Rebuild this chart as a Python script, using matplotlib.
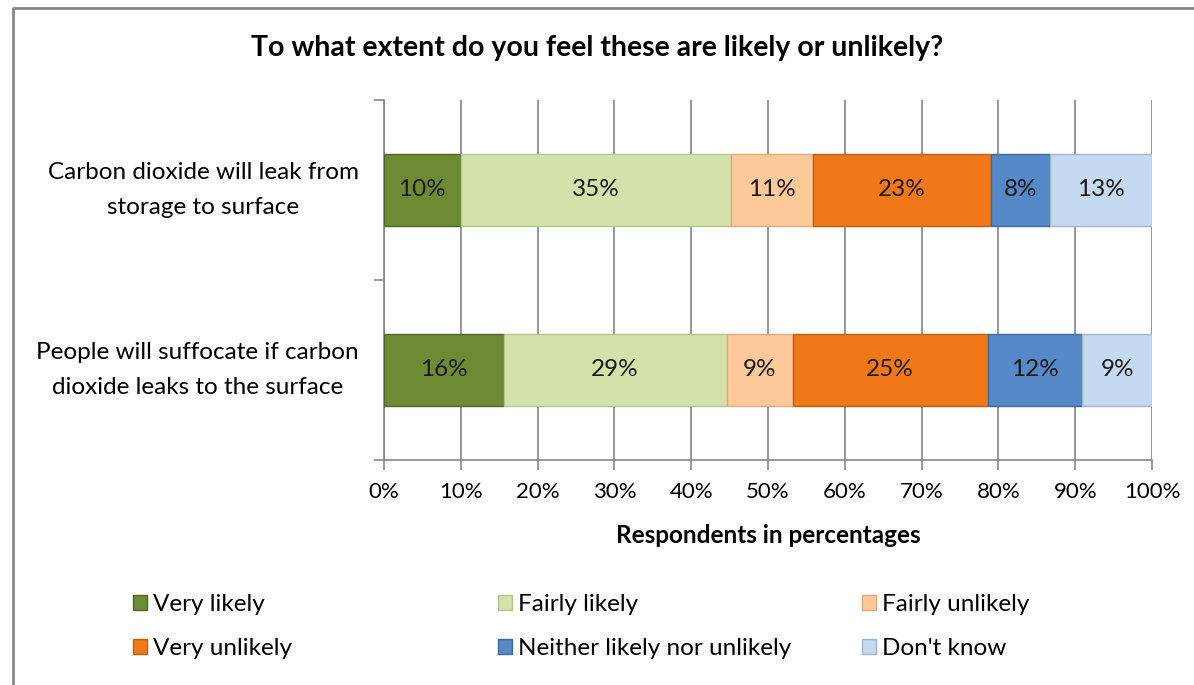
import numpy as np
import matplotlib.pyplot as plt
from matplotlib.patches import Patch
from matplotlib.lines import Line2D

plt.rcParams['font.family'] = ['Lato', 'DejaVu Sans']

# Data (percent of respondents)
questions = ["Carbon dioxide will leak from\nstorage to surface",
             "People will suffocate if carbon\ndioxide leaks to the surface"]
answers = ["Very likely", "Fairly likely", "Fairly unlikely",
           "Very unlikely", "Neither likely nor unlikely", "Don't know"]
leak = [10.0, 35.2, 10.6, 23.2, 7.7, 13.3]
suffocate = [15.6, 29.0, 8.6, 25.4, 12.3, 9.1]

colors = ["#6E8B33", "#D3E2AA", "#FDC89A", "#F07818", "#5589C8", "#C5D9F0"]
edges = ["#4F6624", "#B5C48E", "#E0AA7C", "#C05F10", "#3F6A9C", "#9FB3CC"]

values = np.array([leak, suffocate])

fig = plt.figure(figsize=(11.94, 6.85), dpi=100)
ax = fig.add_axes([384 / 1194, 1 - 460 / 685, 768 / 1194, 360 / 685])

y = np.arange(len(questions))
left = np.zeros(len(questions))
for i, ans in enumerate(answers):
    bars = ax.barh(y, values[:, i], left=left, height=0.4, color=colors[i],
                   edgecolor=edges[i], linewidth=1, label=ans, zorder=3)
    for b, v in zip(bars, values[:, i]):
        ax.text(b.get_x() + b.get_width() / 2, b.get_y() + b.get_height() / 2,
                f"{round(v):d}%", ha="center", va="center", fontsize=17.5,
                color="#1a1a1a", zorder=4)
    left += values[:, i]

ax.set_xlim(0, 100)
ax.set_ylim(1.5, -0.5)
ax.set_xticks(np.arange(0, 101, 10))
ax.set_xticklabels([f"{t}%" for t in range(0, 101, 10)], fontsize=16)
ax.set_yticks(y)
ax.set_yticklabels(questions, fontsize=17.5)
for lab in ax.get_yticklabels():
    lab.set_multialignment("center")
    lab.set_linespacing(1.8)
    lab.set_va("center")
ax.set_yticks([-0.5, 0.5, 1.5], minor=True)
ax.tick_params(axis="y", which="major", length=0, pad=18)
ax.tick_params(axis="y", which="minor", length=7, color="#868686", width=1.2)
ax.tick_params(axis="x", length=7, color="#868686", width=1.2, pad=9)

ax.grid(axis="x", color="#868686", linewidth=1.2, zorder=0)
ax.set_axisbelow(True)
for s in ["top", "right"]:
    ax.spines[s].set_visible(False)
for s in ["left", "bottom"]:
    ax.spines[s].set_color("#868686")
    ax.spines[s].set_linewidth(1.2)

ax.set_xlabel("Respondents in percentages", fontsize=17.5, fontweight="bold", labelpad=16)
fig.suptitle("To what extent do you feel these are likely or unlikely?",
             fontsize=20.5, fontweight="bold", x=0.5, y=1 - 48 / 685, va="center")

# legend: three columns laid out like the original
col_x = [121, 486, 850]
for c in range(3):
    hs = [Patch(facecolor=colors[k], edgecolor=edges[k]) for k in (c, c + 3)]
    fig.legend(hs, [answers[c], answers[c + 3]], loc="upper left",
               bbox_to_anchor=(col_x[c] / 1194, 1 - 582 / 685), frameon=False,
               fontsize=17.5, handlelength=0.55, handleheight=0.55,
               handletextpad=0.25, labelspacing=0.95, borderpad=0)

# chart border (open on the right and bottom, as cropped in the original)
fig.add_artist(Line2D([13 / 1194, 13 / 1194, 1.0], [0.0, 1 - 8 / 685, 1 - 8 / 685],
                      transform=fig.transFigure, color="#868686", linewidth=2))

fig.savefig("out.png", dpi=100)
